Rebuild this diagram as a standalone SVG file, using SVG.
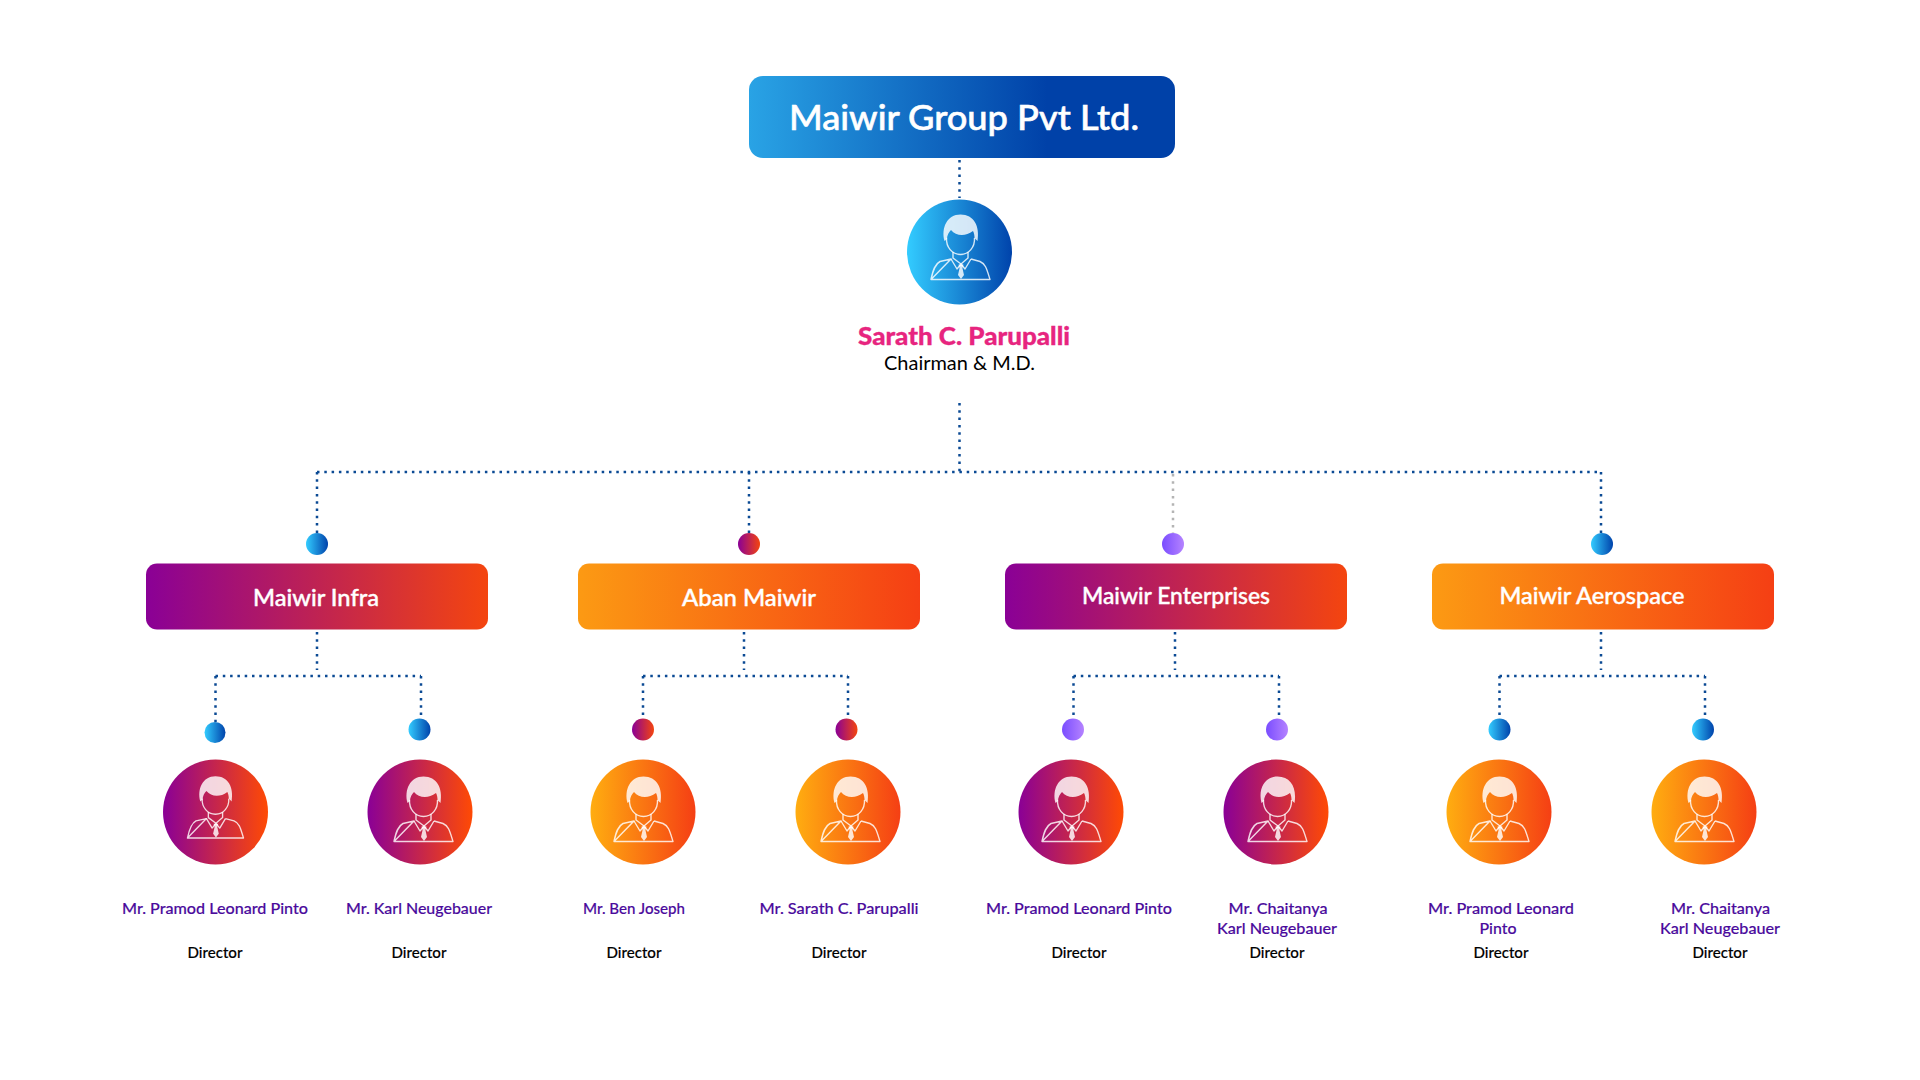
<svg xmlns="http://www.w3.org/2000/svg" xmlns:xlink="http://www.w3.org/1999/xlink" width="1920" height="1080" viewBox="0 0 1920 1080">
<style>
text{font-family:"Lato","Liberation Sans",sans-serif;text-anchor:middle}
.title{font-size:35px;font-weight:500;fill:#fff;stroke:#fff;stroke-width:.6}
.block{font-size:23px;font-weight:500;fill:#fff;stroke:#fff;stroke-width:.4}
.chief{font-size:24px;font-weight:900;fill:#e7257f;stroke:#e7257f;stroke-width:.3}
.role{font-size:19px;fill:#000}
.name{font-size:14.5px;font-weight:500;fill:#4a0a9c;stroke:#4a0a9c;stroke-width:.15}
.dir{font-size:14.5px;font-weight:500;fill:#000;stroke:#000;stroke-width:.15}
.dot{fill:none;stroke:#0b4a94;stroke-width:2.5;stroke-dasharray:2.5 4.8}
.grey{stroke:#b4b4b4}
.ln{fill:none;stroke:#fff;stroke-opacity:.82;stroke-width:1.4;stroke-linejoin:round}
.fl{fill:#fff;fill-opacity:.82}
</style>
<defs>
<linearGradient id="gTitle"><stop offset="0" stop-color="#29a3e5"/><stop offset=".7" stop-color="#0041a8"/></linearGradient>
<linearGradient id="gBlue"><stop offset="0" stop-color="#33ccff"/><stop offset="1" stop-color="#0043ab"/></linearGradient>
<linearGradient id="gMag"><stop offset="0" stop-color="#8a0096"/><stop offset="1" stop-color="#f4450f"/></linearGradient>
<linearGradient id="gOrg"><stop offset="0" stop-color="#fc9a13"/><stop offset="1" stop-color="#f53f14"/></linearGradient>
<linearGradient id="gAvM"><stop offset="0" stop-color="#8a0096"/><stop offset="1" stop-color="#ff4a04"/></linearGradient>
<linearGradient id="gAvO"><stop offset="0" stop-color="#ffad10"/><stop offset="1" stop-color="#f53f14"/></linearGradient>
<linearGradient id="gPur"><stop offset="0" stop-color="#7a4dff"/><stop offset="1" stop-color="#b583ff"/></linearGradient>
<linearGradient id="gDotM"><stop offset="0" stop-color="#8a0096"/><stop offset="1" stop-color="#f4450f"/></linearGradient>
<g id="person">
<path class="fl" d="M-15.5,-9 C-19,-22 -13,-35.5 0.5,-35.5 C14,-35.5 20,-24 17.5,-9 L14.5,-12 C14.5,-15 14,-17 13,-19 C5,-13 -4,-14 -9,-20 C-11,-18 -13,-15 -13,-11 Z"/>
<path class="ln" d="M-13.5,-12 C-14,-3 -8,4.5 0.5,4.5 C9,4.5 15,-3 14.5,-12"/>
<path class="ln" d="M-7,2 V8 L1,14 L8,8 V2"/>
<path class="ln" d="M-9,9 L-3,19 L1,14 L5,19 L11,9"/>
<path class="fl" d="M-1.5,14.5 H3.5 L2.4,18 L4,25 L1,29 L-2,25 L-0.4,18 Z"/>
<path class="ln" d="M-29,29.5 H30 C27,20 26,14 20,11.5 L11,9 M-9,9 L-20,11.5 C-25,14 -27,20 -29,29.5 Z"/>
</g>
</defs>
<rect width="1920" height="1080" fill="#fff"/>
<g id="connectors">
<path class="dot" d="M959.5 160V198"/>
<path class="dot" d="M959.5 403V472"/>
<path class="dot" d="M317 472H1601"/>
<path class="dot" d="M317 472V533"/>
<path class="dot" d="M749 472V533"/>
<path class="dot grey" d="M1173 474V533"/>
<path class="dot" d="M1601 472V533"/>
<path class="dot" d="M317 632V670M215.5 676H421M215.5 676V722M421 676V718"/>
<path class="dot" d="M744 632V670M643 676H848M643 676V718M848 676V718"/>
<path class="dot" d="M1175 632V670M1073.5 676H1279M1073.5 676V718M1279 676V718"/>
<path class="dot" d="M1601 632V670M1499.5 676H1705M1499.5 676V718M1705 676V718"/>
<circle cx="317" cy="544" r="11" fill="url(#gBlue)"/>
<circle cx="749" cy="544" r="11" fill="url(#gDotM)"/>
<circle cx="1173" cy="544" r="11" fill="url(#gPur)"/>
<circle cx="1602" cy="544" r="11" fill="url(#gBlue)"/>
<circle cx="215" cy="732.5" r="10.5" fill="url(#gBlue)"/>
<circle cx="419.5" cy="729.5" r="11" fill="url(#gBlue)"/>
<circle cx="643" cy="729.5" r="11" fill="url(#gDotM)"/>
<circle cx="846.5" cy="729.5" r="11" fill="url(#gDotM)"/>
<circle cx="1073" cy="729.5" r="11" fill="url(#gPur)"/>
<circle cx="1277" cy="729.5" r="11" fill="url(#gPur)"/>
<circle cx="1499.5" cy="729.5" r="11" fill="url(#gBlue)"/>
<circle cx="1703" cy="729.5" r="11" fill="url(#gBlue)"/>
</g>
<g id="group-title"><rect x="749" y="76" width="426" height="82" rx="14" fill="url(#gTitle)"/><text class="title" x="964" y="130" textLength="350" lengthAdjust="spacingAndGlyphs">Maiwir Group Pvt Ltd.</text></g>
<g id="chairman"><circle cx="959.5" cy="252" r="52.5" fill="url(#gBlue)"/><use xlink:href="#person" href="#person" x="960" y="250"/><text class="chief" x="964" y="345" textLength="212" lengthAdjust="spacingAndGlyphs">Sarath C. Parupalli</text><text class="role" x="959.5" y="370" textLength="151" lengthAdjust="spacingAndGlyphs">Chairman &amp; M.D.</text></g>
<g id="infra"><rect x="146" y="563.5" width="342" height="66" rx="11" fill="url(#gMag)"/><text class="block" x="316" y="606" textLength="126" lengthAdjust="spacingAndGlyphs">Maiwir Infra</text></g>
<g id="aban"><rect x="578" y="563.5" width="342" height="66" rx="11" fill="url(#gOrg)"/><text class="block" x="749" y="606" textLength="134" lengthAdjust="spacingAndGlyphs">Aban Maiwir</text></g>
<g id="enterprises"><rect x="1005" y="563.5" width="342" height="66" rx="11" fill="url(#gMag)"/><text class="block" x="1176" y="604" textLength="188" lengthAdjust="spacingAndGlyphs">Maiwir Enterprises</text></g>
<g id="aerospace"><rect x="1432" y="563.5" width="342" height="66" rx="11" fill="url(#gOrg)"/><text class="block" x="1592" y="604" textLength="185" lengthAdjust="spacingAndGlyphs">Maiwir Aerospace</text></g>
<g id="d1"><circle cx="215.5" cy="812" r="52.5" fill="url(#gAvM)"/><use xlink:href="#person" href="#person" transform="translate(215 810) scale(.95)"/><text class="name" x="215" y="914" textLength="186" lengthAdjust="spacingAndGlyphs">Mr. Pramod Leonard Pinto</text><text class="dir" x="215" y="958" textLength="55" lengthAdjust="spacingAndGlyphs">Director</text></g>
<g id="d2"><circle cx="420" cy="812" r="52.5" fill="url(#gAvM)"/><use xlink:href="#person" href="#person" x="423" y="812"/><text class="name" x="419" y="914" textLength="146" lengthAdjust="spacingAndGlyphs">Mr. Karl Neugebauer</text><text class="dir" x="419" y="958" textLength="55" lengthAdjust="spacingAndGlyphs">Director</text></g>
<g id="d3"><circle cx="643" cy="812" r="52.5" fill="url(#gAvO)"/><use xlink:href="#person" href="#person" x="643" y="812"/><text class="name" x="634" y="914" textLength="102" lengthAdjust="spacingAndGlyphs">Mr. Ben Joseph</text><text class="dir" x="634" y="958" textLength="55" lengthAdjust="spacingAndGlyphs">Director</text></g>
<g id="d4"><circle cx="848" cy="812" r="52.5" fill="url(#gAvO)"/><use xlink:href="#person" href="#person" x="850" y="812"/><text class="name" x="839" y="914" textLength="159" lengthAdjust="spacingAndGlyphs">Mr. Sarath C. Parupalli</text><text class="dir" x="839" y="958" textLength="55" lengthAdjust="spacingAndGlyphs">Director</text></g>
<g id="d5"><circle cx="1071" cy="812" r="52.5" fill="url(#gAvM)"/><use xlink:href="#person" href="#person" x="1071" y="812"/><text class="name" x="1079" y="914" textLength="186" lengthAdjust="spacingAndGlyphs">Mr. Pramod Leonard Pinto</text><text class="dir" x="1079" y="958" textLength="55" lengthAdjust="spacingAndGlyphs">Director</text></g>
<g id="d6"><circle cx="1276" cy="812" r="52.5" fill="url(#gAvM)"/><use xlink:href="#person" href="#person" x="1277" y="812"/><text class="name" x="1278" y="914" textLength="99" lengthAdjust="spacingAndGlyphs">Mr. Chaitanya</text><text class="name" x="1277" y="934" textLength="120" lengthAdjust="spacingAndGlyphs">Karl Neugebauer</text><text class="dir" x="1277" y="958" textLength="55" lengthAdjust="spacingAndGlyphs">Director</text></g>
<g id="d7"><circle cx="1499" cy="812" r="52.5" fill="url(#gAvO)"/><use xlink:href="#person" href="#person" x="1499" y="812"/><text class="name" x="1501" y="914" textLength="146" lengthAdjust="spacingAndGlyphs">Mr. Pramod Leonard</text><text class="name" x="1498" y="934" textLength="37" lengthAdjust="spacingAndGlyphs">Pinto</text><text class="dir" x="1501" y="958" textLength="55" lengthAdjust="spacingAndGlyphs">Director</text></g>
<g id="d8"><circle cx="1704" cy="812" r="52.5" fill="url(#gAvO)"/><use xlink:href="#person" href="#person" x="1704" y="812"/><text class="name" x="1720.5" y="914" textLength="99" lengthAdjust="spacingAndGlyphs">Mr. Chaitanya</text><text class="name" x="1720" y="934" textLength="120" lengthAdjust="spacingAndGlyphs">Karl Neugebauer</text><text class="dir" x="1720" y="958" textLength="55" lengthAdjust="spacingAndGlyphs">Director</text></g>
</svg>
